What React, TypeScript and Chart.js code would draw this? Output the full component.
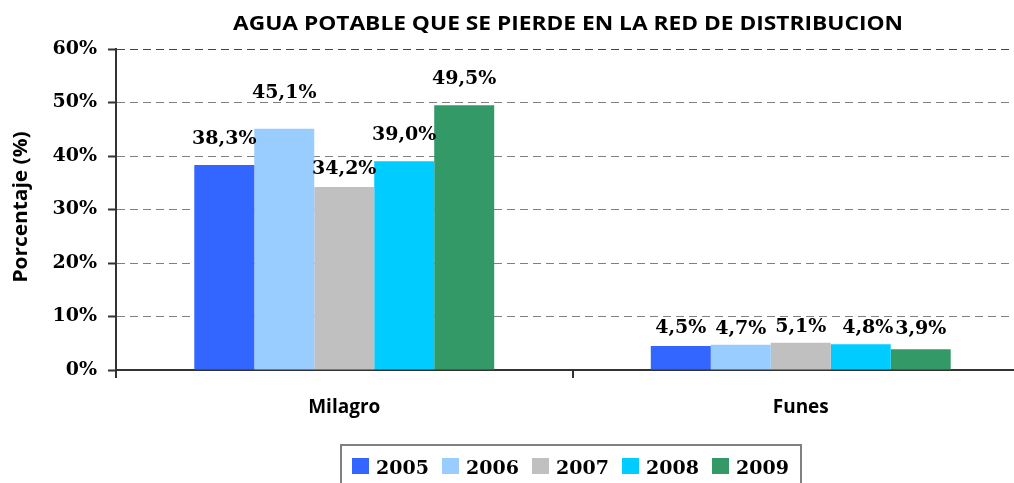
import React, { useEffect, useRef } from "react";
import { Chart, registerables } from "chart.js";
Chart.register(...registerables);

const chartTitle = "AGUA POTABLE QUE SE PIERDE EN LA RED DE DISTRIBUCION";
const axisTitle = "Porcentaje (%)";
const categories = ["Milagro", "Funes"];
const years = ["2005", "2006", "2007", "2008", "2009"];
const v2005 = [38.3, 4.5];
const v2006 = [45.1, 4.7];
const v2007 = [34.2, 5.1];
const v2008 = [39.0, 4.8];
const v2009 = [49.5, 3.9];
const seriesValues = [v2005, v2006, v2007, v2008, v2009];
const yTickValues = [0, 10, 20, 30, 40, 50, 60];

const colors = ["#3366FF", "#99CCFF", "#C0C0C0", "#00CCFF", "#339966"];
// label offsets (px) from bar top to label centre, as placed in the original
const labelLift = [[26, 18], [36, 16], [18, 16], [26, 16], [26, 20]];
const labelShiftX = [[0, 0], [0, 0], [0, 0], [0, 7], [0, 0]];

const numFont = "bold 19px 'DejaVu Serif'";
const sansFamily = "'Open Sans', 'DejaVu Sans', sans-serif";

const fmt = (v: number) => v.toFixed(1).replace(".", ",") + "%";

function fitText(ctx: CanvasRenderingContext2D, text: string, x: number, y: number, width: number) {
  const w = ctx.measureText(text).width;
  ctx.save();
  ctx.translate(x, y);
  ctx.scale(width / w, 1);
  ctx.textAlign = "center";
  ctx.fillText(text, 0, 0);
  ctx.restore();
}

const overlay = {
  id: "overlay",
  afterDatasetsDraw(chart: any) {
    const ctx = chart.ctx;
    ctx.save();
    ctx.font = numFont;
    ctx.fillStyle = "#000";
    ctx.textAlign = "center";
    ctx.textBaseline = "middle";
    chart.data.datasets.forEach((ds: any, di: number) => {
      const meta = chart.getDatasetMeta(di);
      meta.data.forEach((el: any, i: number) => {
        ctx.fillText(fmt(ds.data[i]), el.x + labelShiftX[di][i], el.y - labelLift[di][i]);
      });
    });
    ctx.restore();
  },
  afterDraw(chart: any) {
    const ctx = chart.ctx;
    ctx.save();
    // title
    ctx.fillStyle = "#000";
    ctx.font = `bold 19px ${sansFamily}`;
    ctx.textBaseline = "alphabetic";
    fitText(ctx, chartTitle, 568, 30, 670);
    // y axis title
    ctx.save();
    ctx.translate(27, 207);
    ctx.rotate(-Math.PI / 2);
    ctx.font = `bold 19px ${sansFamily}`;
    ctx.textBaseline = "alphabetic";
    fitText(ctx, axisTitle, 0, 0, 151);
    ctx.restore();
    // legend
    ctx.strokeStyle = "#808080";
    ctx.lineWidth = 2;
    ctx.strokeRect(341, 445, 460, 50);
    ctx.font = numFont;
    ctx.textAlign = "left";
    ctx.textBaseline = "alphabetic";
    years.forEach((y, i) => {
      const x = 352 + i * 90;
      ctx.fillStyle = colors[i];
      ctx.fillRect(x, 458, 17, 16);
      ctx.fillStyle = "#000";
      ctx.fillText(y, x + 24, 474);
    });
    ctx.restore();
  },
};

export default function App() {
  const ref = useRef<HTMLCanvasElement>(null);
  useEffect(() => {
    const chart = new Chart(ref.current!, {
      type: "bar",
      data: {
        labels: categories,
        datasets: years.map((y, i) => ({
          label: y,
          data: seriesValues[i],
          backgroundColor: colors[i],
          borderWidth: 0,
          barPercentage: 1,
          categoryPercentage: 0.657,
        })),
      },
      options: {
        responsive: false,
        animation: false,
        devicePixelRatio: 1,
        layout: { padding: { top: 49, right: 11, left: 0, bottom: 0 } },
        plugins: { legend: { display: false }, title: { display: false }, tooltip: { enabled: false } },
        scales: {
          x: {
            afterFit: (s: any) => { s.height = 113; },
            grid: { display: true, drawOnChartArea: false, offset: true, tickLength: 8, color: "#333", lineWidth: 2 },
            border: { display: true, color: "#333", width: 2 },
            ticks: { color: "#000", font: { family: sansFamily, weight: "bold", size: 19 }, padding: 18 },
          },
          y: {
            min: 0,
            max: 60,
            afterFit: (s: any) => { s.width = 116; },
            afterBuildTicks: (s: any) => { s.ticks = yTickValues.map((v) => ({ value: v })); },
            grid: {
              color: (c: any) => (c.tick && c.tick.value === 60 ? "#444" : "#808080"),
              lineWidth: 1,
              tickLength: 8,
              tickColor: "#333",
              tickWidth: 2,
            },
            border: { display: true, color: "#333", width: 2, dash: [8, 5] },
            ticks: {
              color: "#000",
              font: { family: "'DejaVu Serif'", weight: "bold", size: 19 },
              padding: 11,
              callback: (v: any) => v + "%",
            },
          },
        },
      },
      plugins: [overlay],
    });
    return () => chart.destroy();
  }, []);
  return (
    <div style={{ position: "fixed", left: 0, top: 0, width: 1014, height: 483, overflow: "hidden", background: "#fff" }}>
      <canvas ref={ref} width={1040} height={483} style={{ display: "block" }} />
    </div>
  );
}
